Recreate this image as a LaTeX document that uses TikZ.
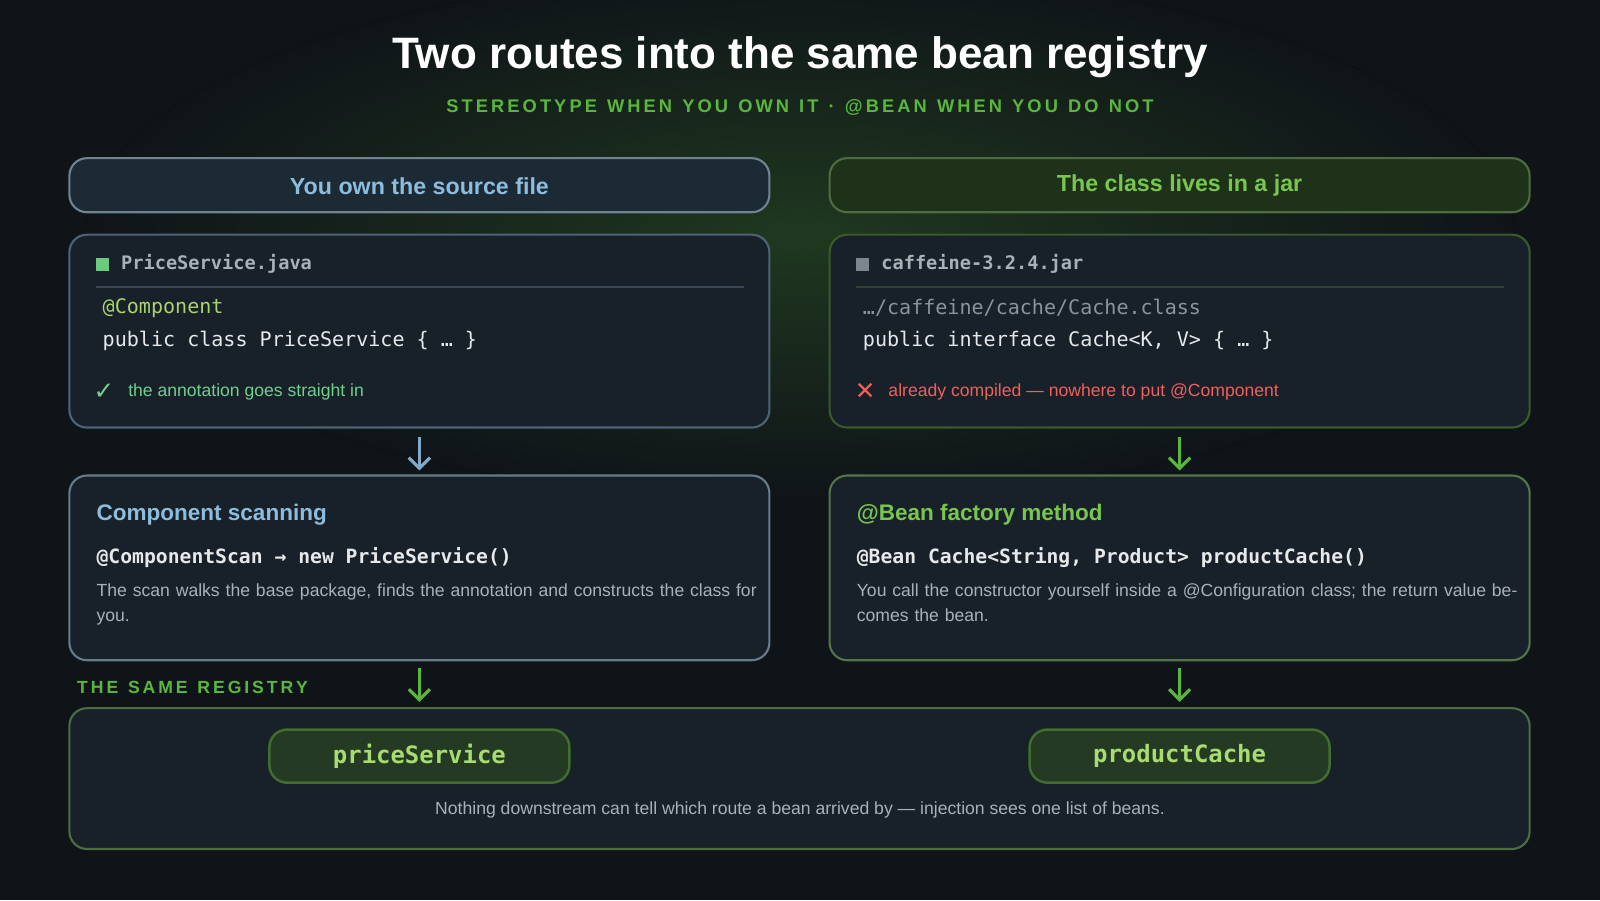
\documentclass[tikz,border=0pt]{standalone}
\usepackage{fontspec}
\setmainfont{Liberation Sans}
\setsansfont{Liberation Sans}
\setmonofont{DejaVu Sans Mono}
\newfontfamily\symf{DejaVu Sans}
\usetikzlibrary{arrows.meta}
\definecolor{bg}{HTML}{0F1418}
\definecolor{boxf}{HTML}{18202A}
\definecolor{bluebd}{HTML}{4E6376}
\definecolor{greenbd}{HTML}{3B5A2C}
\definecolor{bluet}{HTML}{8DBCDC}
\definecolor{greent}{HTML}{78C64E}
\definecolor{sub}{HTML}{5BB73B}
\definecolor{codet}{HTML}{E6E8EA}
\definecolor{grayt}{HTML}{A9B0B8}
\definecolor{okt}{HTML}{6FD08C}
\definecolor{badt}{HTML}{F0605A}
\definecolor{annot}{HTML}{A8D46A}
\definecolor{pillf}{HTML}{243A22}
\definecolor{pilltxt}{HTML}{A8DC70}
\definecolor{hlf}{HTML}{1C2A36}
\definecolor{hrf}{HTML}{1E321A}
\tikzset{
 card/.style={draw=#1, line width=0.6pt, rounded corners=5pt, fill=boxf},
 down/.style={draw=#1, line width=0.9pt, -{Straight Barb[length=3pt,width=6pt]}},
 lt/.style={anchor=west, inner sep=0pt},
 para/.style={anchor=north west, text=grayt, text width=6.65cm, inner sep=0pt, align=left, font=\fontsize{5}{7.2}\selectfont},
}
\begin{document}
\begin{tikzpicture}[x=0.0102cm,y=-0.0102cm]
\fill[bg] (0,0) rectangle (1568,882);
\useasboundingbox (0,0) rectangle (1568,882);
\fill[inner color=sub!22!bg, outer color=bg] (784,230) ellipse [x radius=700, y radius=260];
\node[text=white] (title) at (784,56) {\fontsize{12.5}{15}\selectfont\bfseries Two routes into the same bean registry};
\node[text=sub] (sub) at (784,105) {\fontsize{5.2}{6}\selectfont\bfseries S\,T\,E\,R\,E\,O\,T\,Y\,P\,E\ \ W\,H\,E\,N\ \ Y\,O\,U\ \ O\,W\,N\ \ I\,T\ \ ·\ \ @\,B\,E\,A\,N\ \ W\,H\,E\,N\ \ Y\,O\,U\ \ D\,O\ \ N\,O\,T};
% headers
\path[draw=bluebd!80!white, line width=0.6pt, rounded corners=5pt, fill=hlf] (68,155) rectangle (754,208);
\path[draw=greenbd!90!white, line width=0.6pt, rounded corners=5pt, fill=hrf] (813,155) rectangle (1499,208);
\node[text=bluet] (hl) at (411,182) {\fontsize{6.6}{8}\selectfont\bfseries You own the source file};
\node[text=greent] (hr) at (1156,182) {\fontsize{6.6}{8}\selectfont\bfseries The class lives in a jar};
% code cards
\path[card=bluebd] (68,230) rectangle (754,419);
\path[card=greenbd] (813,230) rectangle (1499,419);
\fill[okt!80!sub] (94,253) rectangle (107,266);
\node[lt, text=grayt] (f1) at (118,259) {\fontsize{5.3}{7}\selectfont\ttfamily\bfseries PriceService.java};
\draw[bluebd!60!boxf, line width=0.5pt] (94,281) -- (729,281);
\node[lt, text=annot] (c1) at (100,302) {\fontsize{5.7}{7}\selectfont\ttfamily @Component};
\node[lt, text=codet] (c2) at (100,334) {\fontsize{5.7}{7}\selectfont\ttfamily public class PriceService \{ … \}};
\node[lt, text=okt] (ok) at (91,384) {\fontsize{7}{8}\selectfont\symf\bfseries ✓};
\node[lt, text=okt] (okt) at (125,384) {\fontsize{5}{6}\selectfont the annotation goes straight in};
\fill[grayt!70!boxf] (839,253) rectangle (852,266);
\node[lt, text=grayt] (f2) at (863,259) {\fontsize{5.3}{7}\selectfont\ttfamily\bfseries caffeine-3.2.4.jar};
\draw[greenbd!60!boxf, line width=0.5pt] (839,281) -- (1474,281);
\node[lt, text=grayt!80!boxf] (d1) at (845,302) {\fontsize{5.7}{7}\selectfont\ttfamily …/caffeine/cache/Cache.class};
\node[lt, text=codet] (d2) at (845,334) {\fontsize{5.7}{7}\selectfont\ttfamily public interface Cache<K, V> \{ … \}};
\node[lt, text=badt] (bad) at (837,384) {\fontsize{7}{8}\selectfont\symf\bfseries ✕};
\node[lt, text=badt] (badt) at (870,384) {\fontsize{5}{6}\selectfont already compiled — nowhere to put @Component};
% middle cards
\path[card=bluebd!85!white] (68,466) rectangle (754,647);
\path[card=greenbd!85!white] (813,466) rectangle (1499,647);
\node[lt, text=bluet] (m1) at (94,504) {\fontsize{6.4}{8}\selectfont\bfseries Component scanning};
\node[lt, text=codet] (m1c) at (94,546) {\fontsize{5.6}{7}\selectfont\ttfamily\bfseries @ComponentScan → new PriceService()};
\node[para] (m1t) at (94,571) {The scan walks the base package, finds the annotation and constructs the class for you.};
\node[lt, text=greent] (m2) at (839,504) {\fontsize{6.4}{8}\selectfont\bfseries @Bean factory method};
\node[lt, text=codet] (m2c) at (839,546) {\fontsize{5.6}{7}\selectfont\ttfamily\bfseries @Bean Cache<String, Product> productCache()};
\node[para] (m2t) at (839,571) {You call the constructor yourself inside a @Configuration class; the return value becomes the bean.};
% arrows
\coordinate (a1s) at (411,428); \coordinate (a1e) at (411,461);
\coordinate (a2s) at (1156,428); \coordinate (a2e) at (1156,461);
\coordinate (a3s) at (411,655); \coordinate (a3e) at (411,688);
\coordinate (a4s) at (1156,655); \coordinate (a4e) at (1156,688);
\draw[down=bluet!80!bluebd] (a1s) -- (a1e);
\draw[down=sub] (a2s) -- (a2e);
\draw[down=sub] (a3s) -- (a3e);
\draw[down=sub] (a4s) -- (a4e);
\node[lt, text=sub] (lab) at (75,674) {\fontsize{5}{6}\selectfont\bfseries T\,H\,E\ \ S\,A\,M\,E\ \ R\,E\,G\,I\,S\,T\,R\,Y};
% bottom
\path[card=greenbd!90!white] (68,694) rectangle (1499,832);
\path[draw=greenbd!80!sub, fill=pillf, line width=0.7pt, rounded corners=5pt] (264,715) rectangle (558,767);
\path[draw=greenbd!80!sub, fill=pillf, line width=0.7pt, rounded corners=5pt] (1009,715) rectangle (1303,767);
\node[text=pilltxt] (p1) at (411,741) {\fontsize{6.8}{8}\selectfont\ttfamily\bfseries priceService};
\node[text=pilltxt] (p2) at (1156,741) {\fontsize{6.8}{8}\selectfont\ttfamily\bfseries productCache};
\node[text=grayt] (cap) at (784,794) {\fontsize{5}{6}\selectfont Nothing downstream can tell which route a bean arrived by — injection sees one list of beans.};
\end{tikzpicture}
\end{document}
